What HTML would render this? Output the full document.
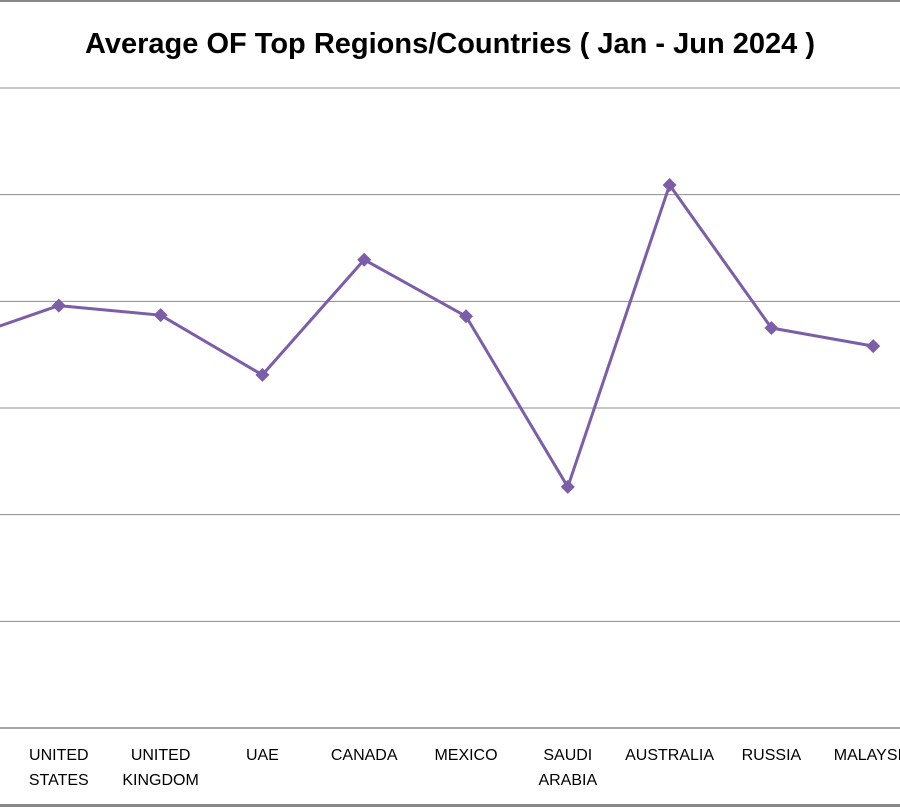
<!DOCTYPE html>
<html><head><meta charset="utf-8"><style>
html,body{margin:0;padding:0;background:#fff;overflow:hidden}
svg{display:block}
</style></head><body>
<svg id="chart" width="900" height="807" xmlns="http://www.w3.org/2000/svg">
<rect x="0" y="0" width="900" height="807" fill="#fff"/>
<line x1="0" y1="1" x2="900" y2="1" stroke="#888" stroke-width="2"/>
<line x1="0" y1="805.5" x2="900" y2="805.5" stroke="#888" stroke-width="3"/>
<text x="450" y="53" text-anchor="middle" font-family="'Liberation Sans',sans-serif" font-weight="bold" font-size="29" fill="#000">Average OF Top Regions/Countries ( Jan - Jun 2024 )</text>
<g id="grid"></g>
<g id="xlabels"></g>
<g id="series"></g>
</svg>
<script>
const categories = ["INDIA", "UNITED\nSTATES", "UNITED\nKINGDOM", "UAE", "CANADA", "MEXICO", "SAUDI\nARABIA", "AUSTRALIA", "RUSSIA", "MALAYSIA"];
const values = [3.63, 3.96, 3.87, 3.31, 4.39, 3.86, 2.26, 5.09, 3.75, 3.58];
const yTicks = [0, 1, 2, 3, 4, 5, 6];

const NS = "http://www.w3.org/2000/svg";
const y0 = 728, yUnit = 106.67;
const xStart = -43, xStep = 101.8;
function yScale(v){ return y0 - v * yUnit; }
function xScale(i){ return xStart + i * xStep; }

const grid = document.getElementById('grid');
yTicks.forEach(t => {
  const l = document.createElementNS(NS, 'line');
  l.setAttribute('x1', 0); l.setAttribute('x2', 900);
  l.setAttribute('y1', yScale(t)); l.setAttribute('y2', yScale(t));
  l.setAttribute('stroke', t === 0 ? '#888' : '#8c8c8c');
  l.setAttribute('stroke-width', t === 0 ? 1.5 : 1);
  
  
  grid.appendChild(l);
});

const xl = document.getElementById('xlabels');
categories.forEach((c, i) => {
  const t = document.createElementNS(NS, 'text');
  t.setAttribute('text-anchor', 'middle');
  t.setAttribute('font-family', "'Liberation Sans',sans-serif");
  t.setAttribute('font-size', '16');
  t.setAttribute('fill', '#000');
  
  
  c.split('\n').forEach((line, k) => {
    const s = document.createElementNS(NS, 'tspan');
    s.setAttribute('x', xScale(i));
    s.setAttribute('y', 760 + k * 25);
    s.textContent = line;
    t.appendChild(s);
  });
  xl.appendChild(t);
});

const g = document.getElementById('series');
const path = document.createElementNS(NS, 'polyline');
path.setAttribute('points', values.map((v, i) => xScale(i) + ',' + yScale(v)).join(' '));
path.setAttribute('fill', 'none');
path.setAttribute('stroke', '#7b5ea7');
path.setAttribute('stroke-width', '3');
path.setAttribute('stroke-linejoin', 'round');


g.appendChild(path);
values.forEach((v, i) => {
  const x = xScale(i), y = yScale(v), r = 7;
  const m = document.createElementNS(NS, 'polygon');
  m.setAttribute('points', `${x},${y-r} ${x+r},${y} ${x},${y+r} ${x-r},${y}`);
  m.setAttribute('fill', '#7b5ea7');
  
  
  g.appendChild(m);
});
</script>
</body></html>
